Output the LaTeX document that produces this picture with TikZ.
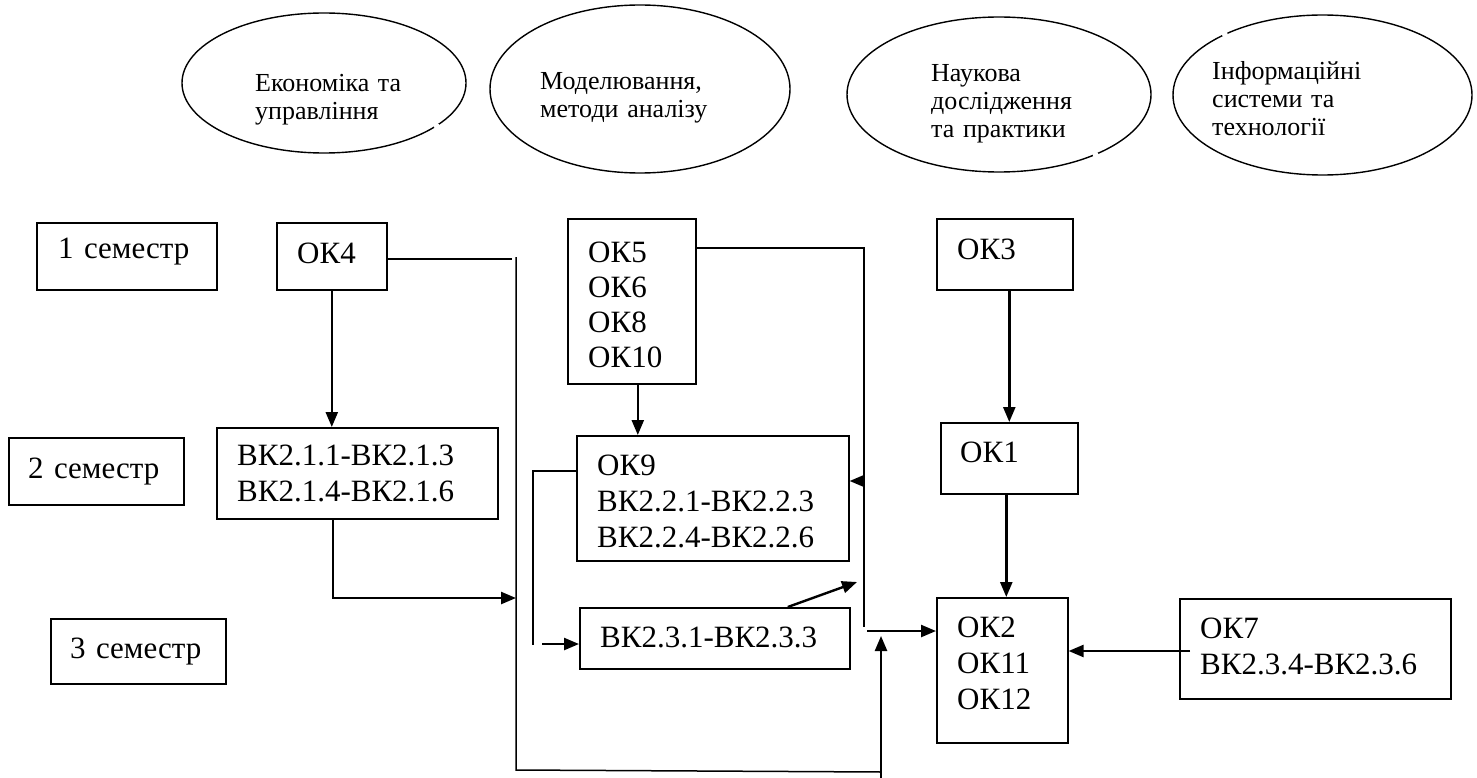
\documentclass[tikz,border=0pt]{standalone}
\usepackage{fontspec}
\setmainfont{Liberation Serif}
\usetikzlibrary{arrows.meta,shapes.geometric}
\begin{document}
\begin{tikzpicture}[x=1pt,y=-1pt,
  box/.style={draw, line width=1.6pt, anchor=north west, inner sep=0pt},
  txt/.style={anchor=base west, inner sep=0pt, text width=320pt, align=left, font=\fontsize{31}{36}\selectfont},
  etxt/.style={anchor=base west, inner sep=0pt, text width=260pt, align=left, font=\fontsize{26}{28}\selectfont},
  oval/.style={draw, ellipse, line width=1.4pt, inner sep=0pt},
  ln/.style={line width=1.5pt},
  arr/.style={line width=2.4pt, -{Triangle[length=15pt,width=12pt]}},
  gap/.style={fill=white, draw=none, circle, minimum size=6pt, inner sep=0pt},
]
\useasboundingbox (0,0) rectangle (1477,778);
\fill[white] (0,0) rectangle (1477,778);

% ellipses
\node[oval, minimum width=284pt, minimum height=140pt] (e1) at (324,83) {};
\node[oval, minimum width=300pt, minimum height=168pt] (e2) at (640,89) {};
\node[oval, minimum width=304pt, minimum height=155pt] (e3) at (999,94.5) {};
\node[oval, minimum width=299pt, minimum height=160pt] (e4) at (1322.5,95) {};
% small breaks in the outlines
\node[gap] (g1) at (e1.-21) {};
\node[gap] (g3) at (e3.-32) {};
\node[gap] (g4) at (e4.148) {};
\node[etxt] (e1t) at (255,92) {Економіка та\\управління};
\node[etxt] (e2t) at (540,90) {Моделювання,\\методи аналізу};
\node[etxt] (e3t) at (931,82) {Наукова\\дослідження\\та практики};
\node[etxt] (e4t) at (1212,80) {Інформаційні\\системи та\\технології};

% semester boxes
\node[box, minimum width=180pt, minimum height=67pt] (s1) at (36,222) {};
\node[box, minimum width=175pt, minimum height=67pt] (s2) at (8,437) {};
\node[box, minimum width=175pt, minimum height=65pt] (s3) at (50,618) {};
\node[txt] (s1t) at (58,258) {1 семестр};
\node[txt] (s2t) at (28,478) {2 семестр};
\node[txt] (s3t) at (70,658) {3 семестр};

% course boxes
\node[box, minimum width=110pt, minimum height=67pt] (ok4) at (276,222) {};
\node[box, minimum width=281pt, minimum height=91pt] (vk21) at (216,427) {};
\node[box, minimum width=128pt, minimum height=165pt] (ok5) at (567,218) {};
\node[box, minimum width=272pt, minimum height=125pt] (ok9) at (576,435) {};
\node[box, minimum width=270pt, minimum height=61pt] (vk23) at (579,607) {};
\node[box, minimum width=136pt, minimum height=71pt] (ok3) at (936,218) {};
\node[box, minimum width=137pt, minimum height=71pt] (ok1) at (940,422) {};
\node[box, minimum width=131pt, minimum height=145pt] (ok2) at (936,597) {};
\node[box, minimum width=271pt, minimum height=100pt] (ok7) at (1179,598) {};

\node[txt] (ok4t) at (297,263) {ОК4};
\node[txt] (vk21t) at (237,465) {ВК2.1.1-ВК2.1.3\\ВК2.1.4-ВК2.1.6};
\node[txt, font=\fontsize{31}{35}\selectfont] (ok5t) at (588,262) {ОК5\\ОК6\\ОК8\\ОК10};
\node[txt] (ok9t) at (597,475) {ОК9\\ВК2.2.1-ВК2.2.3\\ВК2.2.4-ВК2.2.6};
\node[txt] (vk23t) at (600,647) {ВК2.3.1-ВК2.3.3};
\node[txt] (ok3t) at (957,259) {ОК3};
\node[txt] (ok1t) at (960,462) {ОК1};
\node[txt] (ok2t) at (957,637) {ОК2\\ОК11\\ОК12};
\node[txt] (ok7t) at (1200,638) {ОК7\\ВК2.3.4-ВК2.3.6};

% helper coordinates
\coordinate (h1) at (512,259);
\coordinate (v1) at (516,257);
\coordinate (bl) at (516,770);
\coordinate (br) at (881,772);
\coordinate (b0) at (881,778);
\coordinate (j3) at (881,636);
\coordinate (c2) at (333,598);
\coordinate (r1) at (864,248);
\coordinate (r2) at (864,627);
\coordinate (r3) at (864,481);
\coordinate (j2) at (867,631);
\coordinate (l1) at (533,471);
\coordinate (l2) at (533,645);
\coordinate (l3) at (542,644);
\coordinate (d1) at (857,582);

% connectors
\draw[arr] (ok4.south) -- (ok4.south |- vk21.north);
\draw[ln] (ok4.east |- h1) -- (h1);
\draw[ln] (v1) -- (bl) -- (br);
\draw[arr] (b0) -- (j3);
\draw[arr] (vk21.south -| c2) -- (c2) -- (c2 -| bl);
\draw[arr] ([xshift=6pt]ok5.south) -- ([xshift=6pt]ok5.south |- ok9.north);
\draw[ln] (ok5.east |- r1) -- (r1) -- (r2);
\draw[arr] (r3) -- (r3 -| ok9.east);
\draw[arr] (j2) -- (j2 -| ok2.west);
\draw[ln] (l1 -| ok9.west) -- (l1) -- (l2);
\draw[arr] (l3) -- (l3 -| vk23.west);
\draw[arr] ([xshift=73pt]vk23.north) -- (d1);
\draw[arr] (ok1.north |- ok3.south) -- (ok1.north);
\draw[arr] ([xshift=-3pt]ok1.south) -- ([xshift=-3pt]ok1.south |- ok2.north);
\draw[arr] ([xshift=11pt]ok7.west |- 0,651) -- (ok2.east |- 0,651);
\end{tikzpicture}
\end{document}
